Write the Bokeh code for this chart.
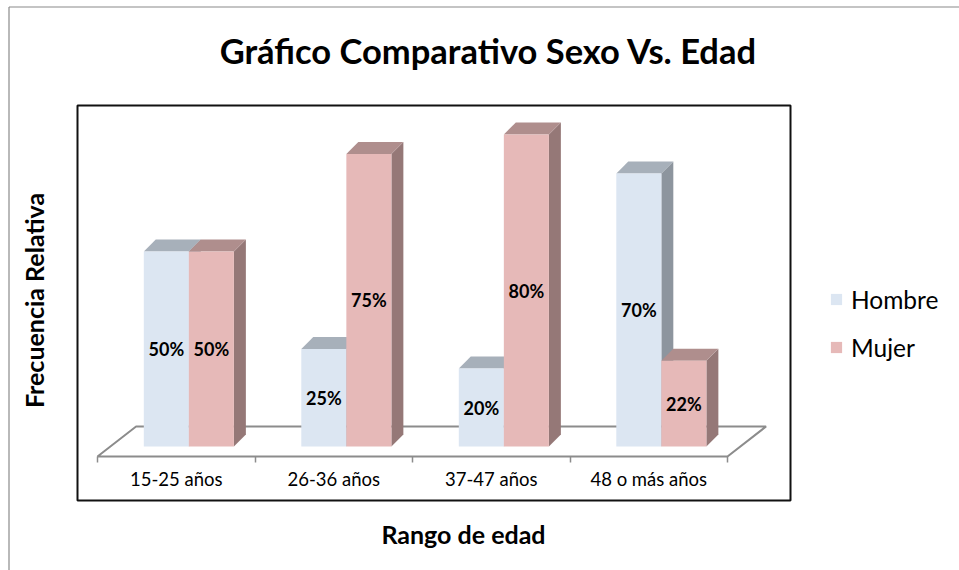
import math
from bokeh.plotting import figure
from bokeh.models import (ColumnDataSource, Range1d, LinearAxis, FixedTicker, Label,
                          Legend, LegendItem, BoxAnnotation)
from bokeh.core.properties import value
from bokeh.embed import file_html
from bokeh.resources import INLINE

# ---------------- data ----------------
categories = ["15-25 años", "26-36 años", "37-47 años", "48 o más años"]
hombre = [50, 25, 20, 70]
mujer = [50, 75, 80, 22]
series_names = ["Hombre", "Mujer"]
title_text = "Gráfico Comparativo Sexo Vs. Edad"
x_title = "Rango de edad"
y_title = "Frecuencia Relativa"

# ---------------- styling / geometry constants ----------------
FONT = "Lato"
W, H = 959, 570
PX_X = 157.5          # px per category unit
PX_Y = 3.9            # px per percent
X0_PX, Y0_PX = 97, 446   # px position of (x=0, y=0)
BAR_W = 0.286
SHIFT = 0.08          # depth offset of bars on the floor
DDX, DDY = 0.076, 3.08   # bar depth
FLOOR_FRONT, FLOOR_BACK, FLOOR_DX = -2.56, 5.13, 0.245

col_front = {"Hombre": "#DCE6F2", "Mujer": "#E6B9B8"}
col_top = {"Hombre": "#A7B0BA", "Mujer": "#AF8E8D"}
col_side = {"Hombre": "#8D959E", "Mujer": "#957877"}


def px_x(px):
    return (px - X0_PX) / PX_X


def px_y(py):
    return (Y0_PX - py) / PX_Y


x_start, x_end = px_x(0), px_x(W)
y_start, y_end = px_y(H), px_y(0)

p = figure(width=W, height=H, output_backend="svg", toolbar_location=None,
           x_range=Range1d(x_start, x_end), y_range=Range1d(y_start, y_end),
           x_axis_type=None, y_axis_type=None,
           min_border=0, min_border_left=0, min_border_right=0,
           min_border_top=0, min_border_bottom=0)
p.outline_line_color = None
p.xgrid.visible = False
p.ygrid.visible = False
p.background_fill_color = "white"
p.border_fill_color = "white"

# outer chart border (left / top)
p.segment(x0=[px_x(8.5), px_x(8.5)], y0=[px_y(6.5), px_y(6.5)],
          x1=[x_end, px_x(8.5)], y1=[px_y(6.5), y_start],
          line_color="#8a8a8a", line_width=1.2)

# plot area box
p.add_layout(BoxAnnotation(left=px_x(77), right=px_x(790), top=px_y(105), bottom=px_y(500),
                           fill_alpha=0, line_color="#111111", line_alpha=1.0,
                           line_width=2, level="underlay"))

# floor
n = len(categories)
p.patch([0, n, n + FLOOR_DX, FLOOR_DX],
        [FLOOR_FRONT, FLOOR_FRONT, FLOOR_BACK, FLOOR_BACK],
        fill_color="white", line_color="#8c8c8c", line_width=2)


def series_geom(vals, left):
    g = dict(x0=[], x1=[], v=[], top_xs=[], top_ys=[], side_xs=[], side_ys=[],
             lx=[], ly=[], txt=[], zero=[])
    for i, v in enumerate(vals):
        c = i + 0.5 + SHIFT
        x0 = c - BAR_W if left else c
        x1 = x0 + BAR_W
        g["x0"].append(x0); g["x1"].append(x1); g["v"].append(v); g["zero"].append(0)
        g["top_xs"].append([x0, x1, x1 + DDX, x0 + DDX])
        g["top_ys"].append([v, v, v + DDY, v + DDY])
        g["side_xs"].append([x1, x1 + DDX, x1 + DDX, x1])
        g["side_ys"].append([0, DDY, v + DDY, v])
        g["lx"].append((x0 + x1) / 2); g["ly"].append(v / 2); g["txt"].append(f"{v}%")
    return ColumnDataSource(g)


fronts = {}
label_sources = []
for name, vals, left in [(series_names[0], hombre, True), (series_names[1], mujer, False)]:
    src = series_geom(vals, left)
    p.patches("side_xs", "side_ys", source=src, fill_color=col_side[name], line_color=None)
    p.patches("top_xs", "top_ys", source=src, fill_color=col_top[name], line_color=None)
    fronts[name] = p.quad(left="x0", right="x1", bottom="zero", top="v", source=src,
                          fill_color=col_front[name], line_color=None)
    label_sources.append(src)

for src in label_sources:
    p.text(x="lx", y="ly", text="txt", source=src, text_font=value(FONT),
           text_font_style="bold", text_font_size=value("18px"), text_color="black",
           text_align="center", text_baseline="middle")

# category axis on the floor front edge
xaxis = LinearAxis(fixed_location=FLOOR_FRONT,
                   ticker=FixedTicker(ticks=[i + 0.5 for i in range(n)],
                                      minor_ticks=list(range(n + 1))),
                   major_label_overrides={i + 0.5: c for i, c in enumerate(categories)},
                   axis_line_color=None, major_tick_line_color=None,
                   major_tick_in=0, major_tick_out=0,
                   minor_tick_line_color="#8c8c8c", minor_tick_line_width=1.5,
                   minor_tick_in=0, minor_tick_out=6,
                   major_label_text_font=FONT, major_label_text_font_size="18.5px",
                   major_label_text_color="black", major_label_standoff=6)
p.add_layout(xaxis, "below")

# titles
p.add_layout(Label(x=px_x(488), y=px_y(50), text=title_text,
                   text_font=FONT, text_font_style="bold", text_font_size="34.5px",
                   text_align="center", text_baseline="middle", text_color="black"))
p.add_layout(Label(x=px_x(463), y=px_y(533), text=x_title,
                   text_font=FONT, text_font_style="bold", text_font_size="25px",
                   text_align="center", text_baseline="middle", text_color="black"))
p.add_layout(Label(x=px_x(33), y=px_y(300), text=y_title,
                   angle=math.pi / 2, text_font=FONT, text_font_style="bold",
                   text_font_size="25px", text_align="center", text_baseline="middle",
                   text_color="black"))

legend = Legend(items=[LegendItem(label=series_names[0], renderers=[fronts["Hombre"]]),
                       LegendItem(label=series_names[1], renderers=[fronts["Mujer"]])],
                location=(829, 208), orientation="vertical",
                glyph_width=14, glyph_height=14, label_standoff=8, spacing=18,
                label_height=30, padding=0, margin=0, border_line_color=None,
                background_fill_alpha=0, label_text_font=FONT,
                label_text_font_size="24.5px", label_text_color="black")
p.add_layout(legend)

open("out.html", "w").write(file_html(p, INLINE))
